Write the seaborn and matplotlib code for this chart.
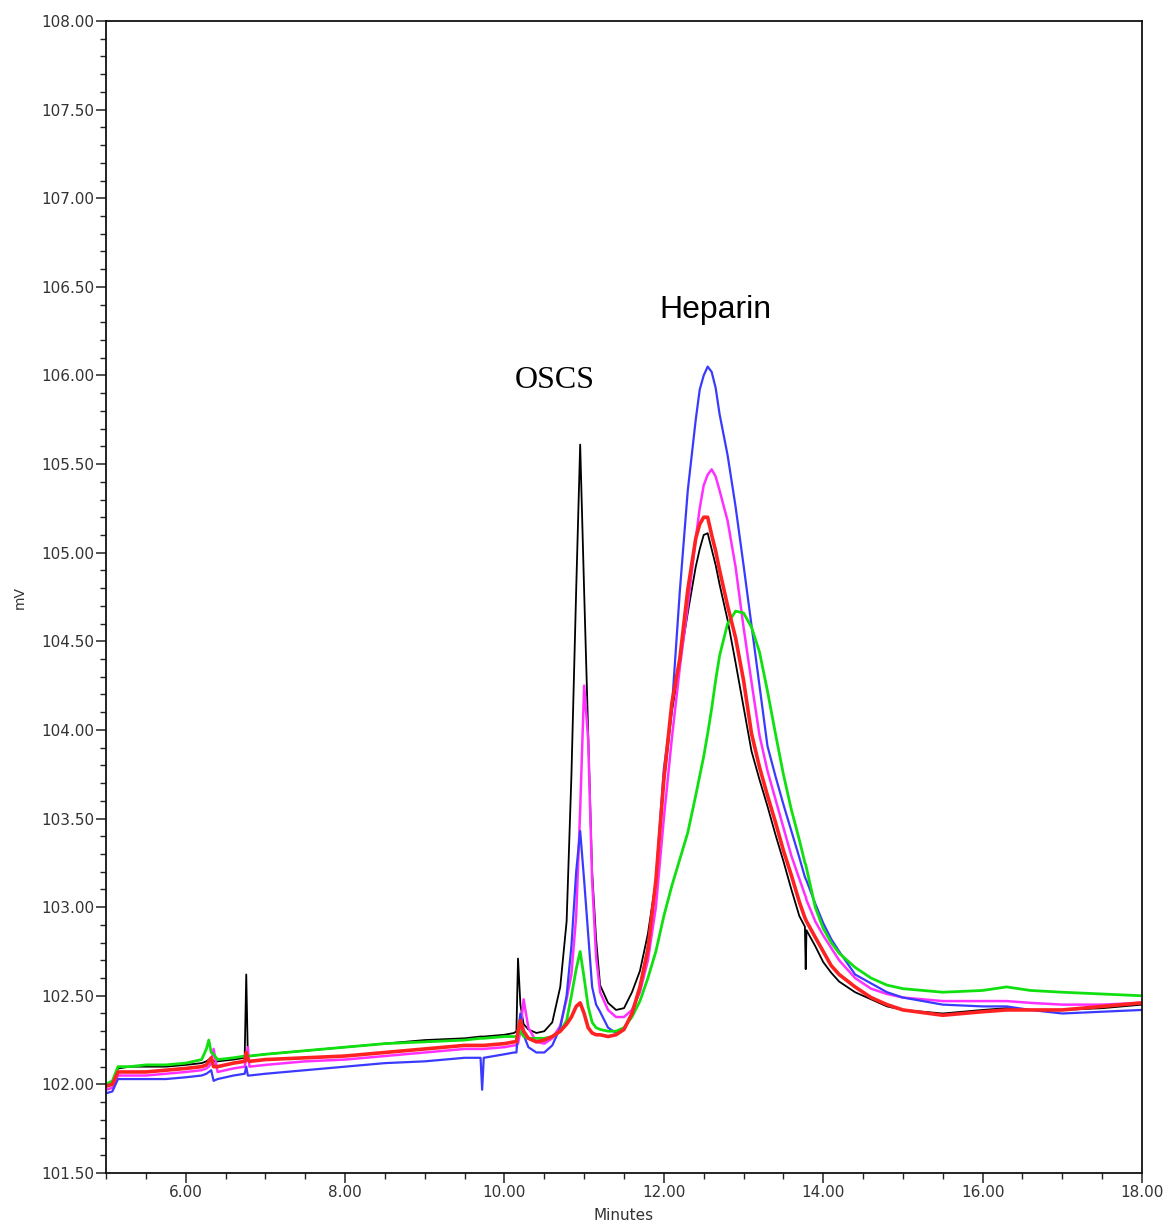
import numpy as np
import pandas as pd
import matplotlib
matplotlib.use("Agg")
import matplotlib.pyplot as plt
from matplotlib.ticker import MultipleLocator, FormatStrFormatter
import seaborn as sns

# ---- data ----
minutes = [5.00, 5.08, 5.15, 5.30, 5.50, 5.75, 6.00, 6.20, 6.26, 6.29,
           6.32, 6.35, 6.40, 6.60, 6.74, 6.76, 6.78, 6.80, 7.00, 7.50,
           8.00, 8.50, 9.00, 9.50, 9.70, 9.72, 9.74, 10.00, 10.12, 10.15,
           10.17, 10.20, 10.24, 10.30, 10.40, 10.50, 10.60, 10.70, 10.78, 10.84,
           10.90, 10.95, 11.00, 11.05, 11.10, 11.15, 11.20, 11.30, 11.40, 11.50,
           11.60, 11.70, 11.80, 11.90, 12.00, 12.10, 12.20, 12.30, 12.40, 12.45,
           12.50, 12.55, 12.60, 12.65, 12.70, 12.80, 12.90, 13.00, 13.10, 13.20,
           13.30, 13.40, 13.50, 13.60, 13.70, 13.77, 13.78, 13.79, 13.90, 14.00,
           14.10, 14.20, 14.40, 14.60, 14.80, 15.00, 15.50, 16.00, 16.30, 16.60,
           17.00, 17.50, 18.00]

black_mv = [102.00, 102.01, 102.09, 102.10, 102.10, 102.10, 102.11, 102.12, 102.13, 102.14,
            102.15, 102.13, 102.13, 102.14, 102.15, 102.62, 102.15, 102.16, 102.17, 102.19,
            102.21, 102.23, 102.25, 102.26, 102.27, 102.27, 102.27, 102.28, 102.29, 102.30,
            102.71, 102.45, 102.34, 102.31, 102.29, 102.30, 102.35, 102.55, 102.92, 103.74,
            104.79, 105.61, 104.78, 103.99, 103.20, 102.82, 102.56, 102.46, 102.42, 102.43,
            102.52, 102.64, 102.85, 103.15, 103.70, 104.10, 104.38, 104.66, 104.92, 105.02,
            105.10, 105.11, 105.02, 104.93, 104.82, 104.62, 104.38, 104.13, 103.88, 103.72,
            103.57, 103.41, 103.26, 103.10, 102.95, 102.89, 102.65, 102.87, 102.78, 102.69,
            102.63, 102.58, 102.52, 102.48, 102.44, 102.42, 102.40, 102.42, 102.43, 102.42,
            102.42, 102.43, 102.45]

blue_mv = [101.95, 101.96, 102.03, 102.03, 102.03, 102.03, 102.04, 102.05, 102.06, 102.07,
           102.08, 102.02, 102.03, 102.05, 102.06, 102.10, 102.05, 102.05, 102.06, 102.08,
           102.10, 102.12, 102.13, 102.15, 102.15, 101.97, 102.15, 102.17, 102.18, 102.18,
           102.30, 102.40, 102.28, 102.21, 102.18, 102.18, 102.22, 102.32, 102.50, 102.78,
           103.20, 103.43, 103.15, 102.85, 102.55, 102.45, 102.41, 102.32, 102.29, 102.31,
           102.40, 102.55, 102.78, 103.15, 103.78, 104.12, 104.78, 105.35, 105.75, 105.92,
           106.00, 106.05, 106.02, 105.93, 105.78, 105.55, 105.26, 104.93, 104.59, 104.25,
           103.91, 103.74, 103.58, 103.43, 103.28, 103.17, 103.16, 103.15, 103.02, 102.91,
           102.82, 102.75, 102.62, 102.57, 102.52, 102.49, 102.45, 102.44, 102.44, 102.42,
           102.40, 102.41, 102.42]

magenta_mv = [101.97, 101.98, 102.05, 102.05, 102.05, 102.06, 102.07, 102.08, 102.09, 102.10,
              102.12, 102.20, 102.07, 102.09, 102.10, 102.14, 102.21, 102.10, 102.11, 102.13,
              102.14, 102.16, 102.18, 102.20, 102.20, 102.20, 102.20, 102.21, 102.22, 102.22,
              102.23, 102.30, 102.48, 102.32, 102.24, 102.23, 102.26, 102.33, 102.48, 102.62,
              102.95, 103.55, 104.25, 103.95, 103.15, 102.72, 102.52, 102.42, 102.38, 102.38,
              102.42, 102.52, 102.70, 103.00, 103.50, 103.95, 104.35, 104.70, 105.08, 105.25,
              105.38, 105.44, 105.47, 105.43, 105.35, 105.18, 104.92, 104.58, 104.27, 103.97,
              103.77, 103.61, 103.45, 103.29, 103.16, 103.07, 103.06, 103.04, 102.92, 102.84,
              102.77, 102.70, 102.60, 102.54, 102.51, 102.49, 102.47, 102.47, 102.47, 102.46,
              102.45, 102.45, 102.46]

green_mv = [102.00, 102.02, 102.10, 102.10, 102.11, 102.11, 102.12, 102.14, 102.20, 102.25,
            102.18, 102.17, 102.14, 102.15, 102.16, 102.17, 102.16, 102.16, 102.17, 102.19,
            102.21, 102.23, 102.24, 102.25, 102.26, 102.26, 102.26, 102.27, 102.27, 102.27,
            102.28, 102.30, 102.27, 102.26, 102.26, 102.26, 102.27, 102.30, 102.36, 102.50,
            102.65, 102.75, 102.60, 102.44, 102.35, 102.32, 102.31, 102.30, 102.30, 102.32,
            102.38, 102.47, 102.60, 102.75, 102.95, 103.12, 103.27, 103.42, 103.63, 103.74,
            103.85, 103.98, 104.12, 104.28, 104.42, 104.60, 104.67, 104.66, 104.58, 104.44,
            104.22, 103.98, 103.75, 103.55, 103.38, 103.25, 103.24, 103.22, 103.00, 102.88,
            102.80, 102.74, 102.66, 102.60, 102.56, 102.54, 102.52, 102.53, 102.55, 102.53,
            102.52, 102.51, 102.50]

red_mv = [101.99, 102.00, 102.07, 102.07, 102.07, 102.08, 102.09, 102.10, 102.11, 102.13,
          102.15, 102.10, 102.10, 102.12, 102.13, 102.18, 102.14, 102.13, 102.14, 102.15,
          102.16, 102.18, 102.20, 102.22, 102.22, 102.22, 102.22, 102.23, 102.24, 102.24,
          102.30, 102.36, 102.30, 102.26, 102.24, 102.25, 102.27, 102.30, 102.34, 102.38,
          102.44, 102.46, 102.40, 102.32, 102.29, 102.28, 102.28, 102.27, 102.28, 102.31,
          102.40, 102.55, 102.76, 103.15, 103.72, 104.15, 104.40, 104.79, 105.08, 105.16,
          105.20, 105.20, 105.10, 105.01, 104.90, 104.70, 104.52, 104.28, 103.98, 103.79,
          103.63, 103.48, 103.32, 103.18, 103.03, 102.94, 102.93, 102.92, 102.83, 102.75,
          102.67, 102.62, 102.55, 102.49, 102.45, 102.42, 102.39, 102.41, 102.42, 102.42,
          102.42, 102.44, 102.46]

series_names = ["black", "magenta", "blue", "green", "red"]
series_values = [black_mv, magenta_mv, blue_mv, green_mv, red_mv]

x_ticks = [6.00, 8.00, 10.00, 12.00, 14.00, 16.00, 18.00]
annotations = [("Heparin", 12.65, 106.37), ("OSCS", 10.63, 105.97)]

# ---- styling ----
colors = {"black": "#000000", "magenta": "#ff30ff", "blue": "#3a3aff",
          "green": "#10e010", "red": "#ff2222"}
widths = {"black": 1.3, "magenta": 1.8, "blue": 1.6, "green": 2.0, "red": 2.6}

sns.set_style("white")
plt.rcParams["font.family"] = ["DejaVu Sans"]

fig = plt.figure(figsize=(11.68, 12.25), dpi=100)
ax = fig.add_axes([106 / 1168, 1 - 1173 / 1225, (1142 - 106) / 1168, (1173 - 21) / 1225])

frames = []
for name, vals in zip(series_names, series_values):
    frames.append(pd.DataFrame({"Minutes": minutes, "mV": vals, "trace": name}))
df = pd.concat(frames, ignore_index=True)

for name in series_names:
    sub = df[df["trace"] == name]
    sns.lineplot(data=sub, x="Minutes", y="mV", ax=ax, color=colors[name],
                 lw=widths[name], estimator=None, sort=False, legend=False)

ax.set_xlim(5.0, 18.0)
ax.set_ylim(101.5, 108.0)
ax.set_xticks(x_ticks)
ax.xaxis.set_minor_locator(MultipleLocator(0.5))
ax.yaxis.set_major_locator(MultipleLocator(0.5))
ax.yaxis.set_minor_locator(MultipleLocator(0.1))
ax.xaxis.set_major_formatter(FormatStrFormatter("%.2f"))
ax.yaxis.set_major_formatter(FormatStrFormatter("%.2f"))

ax.tick_params(axis="both", which="major", direction="out", length=7, width=1.1,
               color="#222222", labelsize=11, labelcolor="#333333", pad=1.5)
ax.tick_params(axis="both", which="minor", direction="out", length=4, width=1.0,
               color="#222222")
ax.tick_params(top=False, right=False, which="both")
ax.tick_params(left=True, bottom=True, which="both")

for sp in ax.spines.values():
    sp.set_visible(True)
    sp.set_color("#111111")
    sp.set_linewidth(1.3)

ax.set_xlabel("Minutes", fontsize=11, color="#333333", labelpad=6)
ax.set_ylabel("mV", fontsize=10, color="#333333", labelpad=10)
ax.grid(False)

ax.text(annotations[0][1], annotations[0][2], annotations[0][0], fontsize=23,
        ha="center", va="center", color="black", family=["Liberation Sans", "DejaVu Sans"])
ax.text(annotations[1][1], annotations[1][2], annotations[1][0], fontsize=23,
        ha="center", va="center", color="black", family=["Liberation Serif", "DejaVu Serif"])

fig.savefig("out.png", dpi=100, facecolor="white")
